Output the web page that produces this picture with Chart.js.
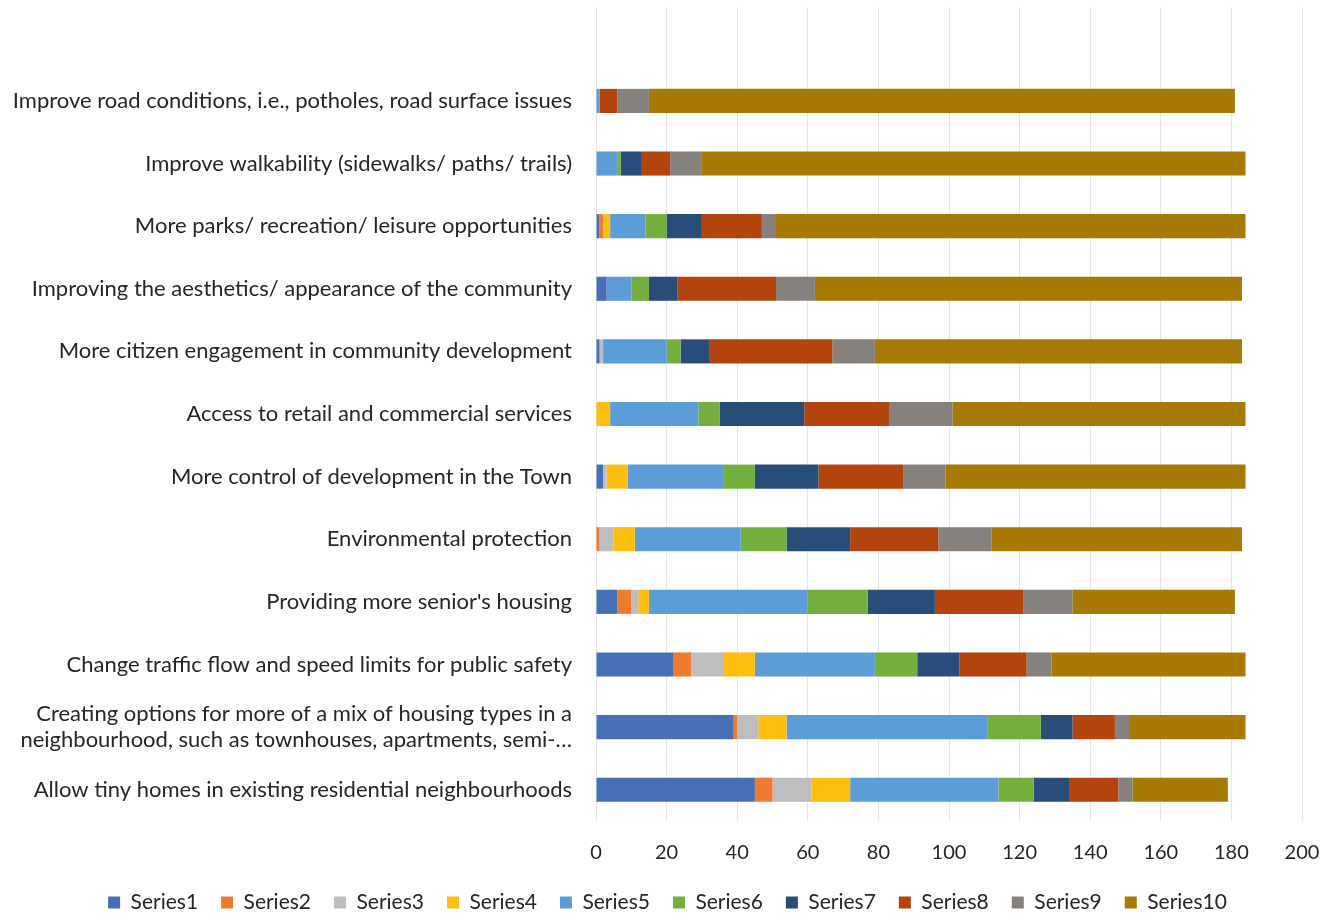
<!DOCTYPE html>
<html>
<head>
<meta charset="utf-8">
<title>Community priorities</title>
<script src="https://cdn.jsdelivr.net/npm/chart.js@4/dist/chart.umd.min.js"></script>
<style>
  html, body { margin: 0; padding: 0; background: #ffffff; }
  #wrap { width: 1335px; height: 919px; position: relative; }
</style>
</head>
<body>
<div id="wrap"><canvas id="priorityChart"></canvas></div>
<script>
/*=========================================================
DATA
=========================================================*/

// first slot is the empty category Excel left at the top
const categories = [
  "",
  "Improve road conditions, i.e., potholes, road surface issues",
  "Improve walkability (sidewalks/ paths/ trails)",
  "More parks/ recreation/ leisure opportunities",
  "Improving the aesthetics/ appearance of the community",
  "More citizen engagement in community development",
  "Access to retail and commercial services",
  "More control of development in the Town",
  "Environmental protection",
  "Providing more senior's housing",
  "Change traffic flow and speed limits for public safety",
  ["Creating options for more of a mix of housing types in a", "neighbourhood, such as townhouses, apartments, semi-…"],
  "Allow tiny homes in existing residential neighbourhoods",
];

const series1 = [null, 0, 0, 1, 3, 1, 0, 2, 0, 6, 22, 39, 45];
const series2 = [null, 0, 0, 1, 0, 0, 0, 0, 1, 4, 5, 1, 5];
const series3 = [null, 0, 0, 0, 0, 1, 0, 1, 4, 2, 9, 6, 11];
const series4 = [null, 0, 0, 2, 0, 0, 4, 6, 6, 3, 9, 8, 11];
const series5 = [null, 1, 6, 10, 7, 18, 25, 27, 30, 45, 34, 57, 42];
const series6 = [null, 0, 1, 6, 5, 4, 6, 9, 13, 17, 12, 15, 10];
const series7 = [null, 0, 6, 10, 8, 8, 24, 18, 18, 19, 12, 9, 10];
const series8 = [null, 5, 8, 17, 28, 35, 24, 24, 25, 25, 19, 12, 14];
const series9 = [null, 9, 9, 4, 11, 12, 18, 12, 15, 14, 7, 4, 4];
const series10 = [null, 166, 154, 133, 121, 104, 83, 85, 71, 46, 55, 33, 27];

const seriesNames = ["Series1", "Series2", "Series3", "Series4", "Series5",
  "Series6", "Series7", "Series8", "Series9", "Series10"];

const xTicks = [0, 20, 40, 60, 80, 100, 120, 140, 160, 180, 200];

/*=========================================================
STYLE
=========================================================*/

const seriesColors = ["#4670B5", "#F07B30", "#BEBEBE", "#FDBE10", "#5C9DD8",
  "#74AE3C", "#284D78", "#B3440E", "#86817C", "#A67A04"];

const FONT = "Lato, 'Open Sans', sans-serif";
const TEXT = "#262626";

/*=========================================================
CHART
=========================================================*/

const allSeries = [series1, series2, series3, series4, series5,
  series6, series7, series8, series9, series10];

const datasets = allSeries.map((values, i) => {
  return {
    label: seriesNames[i],
    data: values,
    backgroundColor: seriesColors[i],
    borderWidth: 0,
    barPercentage: 0.385,
    categoryPercentage: 1.0,
  };
});

new Chart(document.getElementById("priorityChart"), {
  type: "bar",

  data: {
    labels: categories,
    datasets: datasets,
  },

  options: {
    indexAxis: "y",
    responsive: true,
    maintainAspectRatio: false,
    animation: false,

    layout: {
      padding: { top: 7, right: 0, bottom: -4, left: 0 },
    },

    plugins: {
      legend: {
        position: "bottom",
        labels: {
          boxWidth: 12,
          boxHeight: 12,
          padding: 23,
          color: TEXT,
          font: { family: FONT, size: 21 },
        },
      },
      tooltip: { enabled: false },
    },

    scales: {
      x: {
        stacked: true,
        min: 0,
        max: 200,
        afterBuildTicks: (scale) => {
          scale.ticks = xTicks.map((v) => ({ value: v }));
        },
        afterFit: (scale) => {
          scale.height = 48;
          scale.paddingRight = 33;
        },
        grid: {
          color: "#E6E6E6",
          drawTicks: false,
        },
        border: { display: false },
        ticks: {
          padding: 20,
          color: TEXT,
          font: { family: FONT, size: 20 },
        },
      },

      y: {
        stacked: true,
        afterFit: (scale) => {
          scale.width = 596;
          scale.paddingTop = 0;
          scale.paddingBottom = 0;
        },
        grid: { display: false },
        border: { display: false },
        ticks: {
          padding: 16,
          autoSkip: false,
          color: TEXT,
          font: { family: FONT, size: 22, lineHeight: 1.18 },
        },
      },
    },
  },
});
</script>
</body>
</html>
